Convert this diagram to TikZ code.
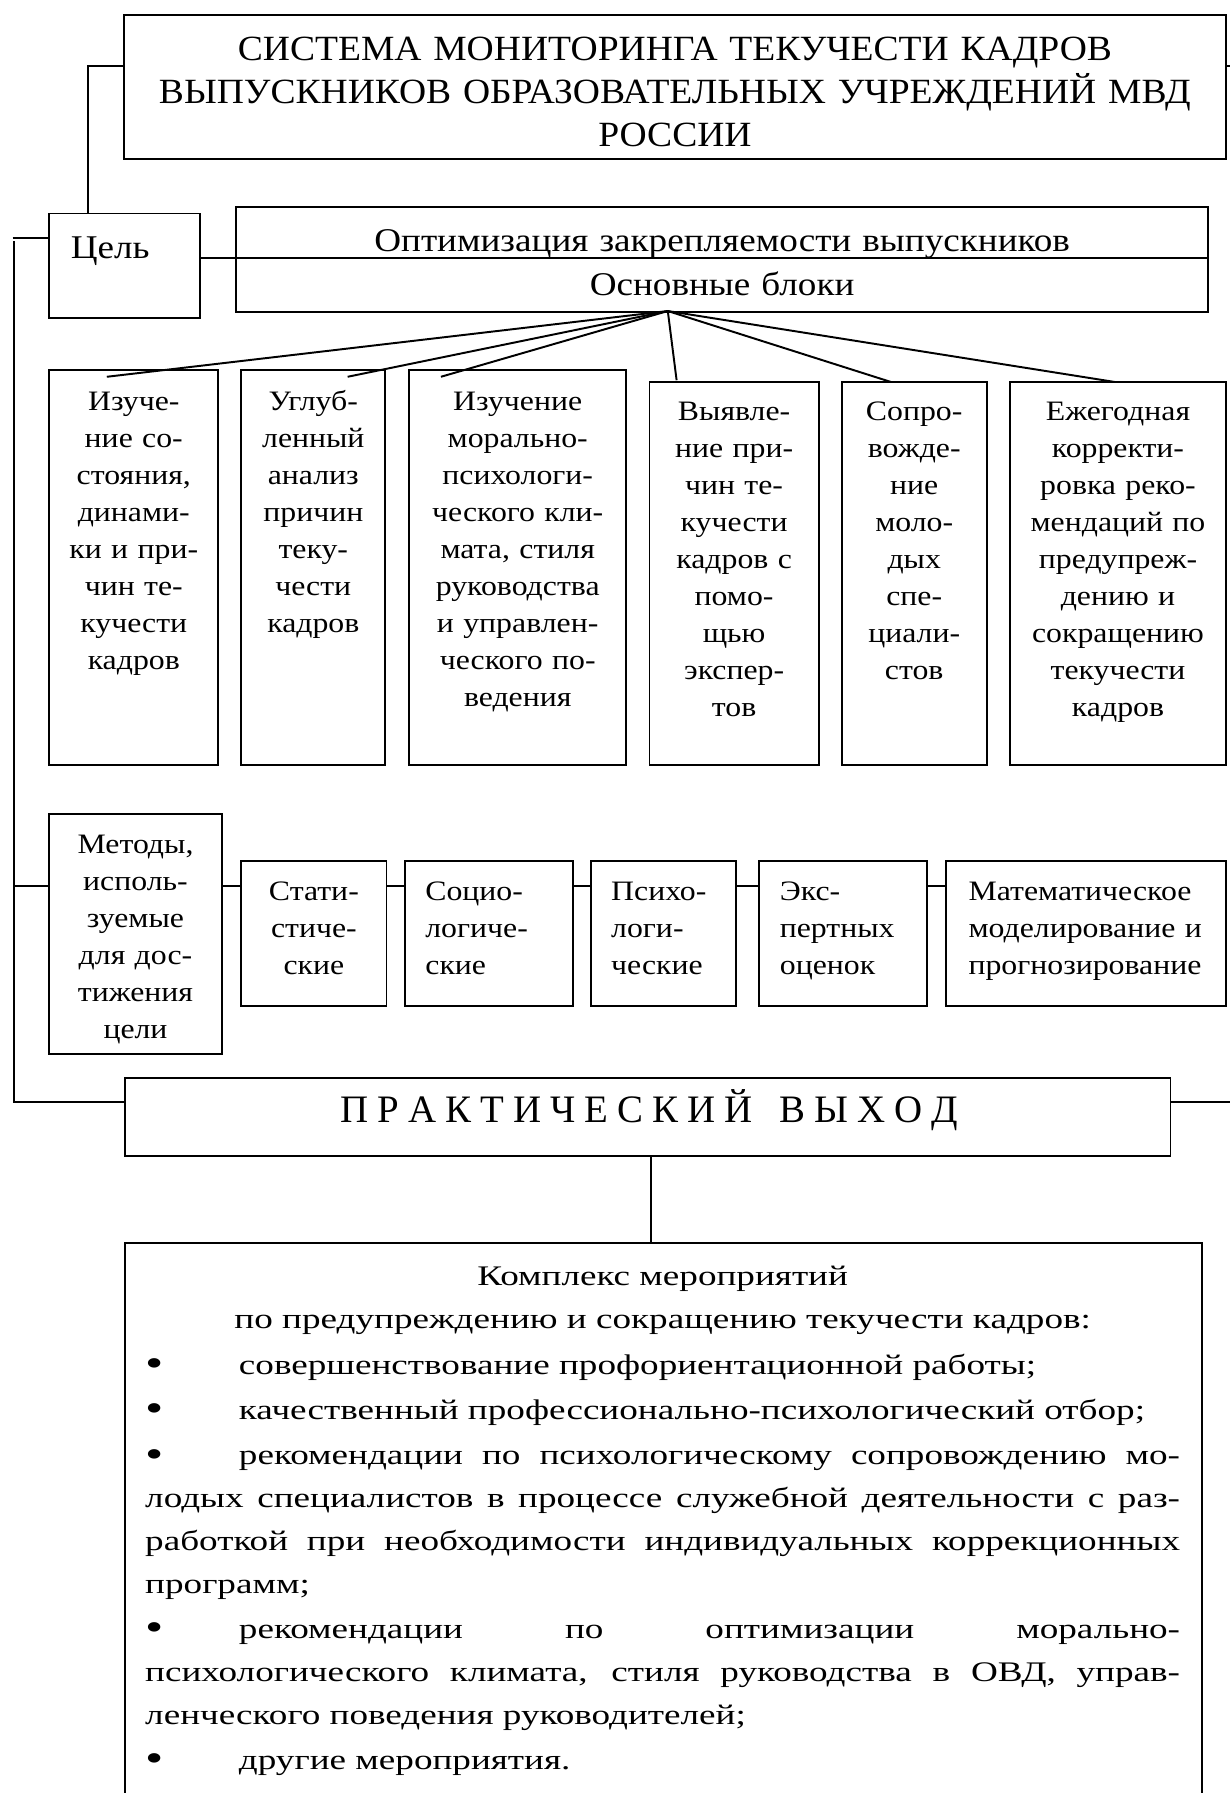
\documentclass[tikz,border=0pt]{standalone}
\usepackage{fontspec}
\usepackage{graphicx}
\setmainfont{Liberation Serif}
\newfontfamily\titlef[FakeStretch=1.06]{Liberation Serif}
\newfontfamily\optf[FakeStretch=1.12]{Liberation Serif}
\newfontfamily\blockf[FakeStretch=1.13]{Liberation Serif}
\newfontfamily\complf[FakeStretch=1.31]{Liberation Serif}
\usetikzlibrary{fit}
\newcommand{\bul}{\makebox[41pt][l]{\raisebox{-0.08em}{\scalebox{1.4}{•}}}}
\newcommand{\jline}[1]{\makebox[452.5pt][s]{#1}}
\begin{document}
\begin{tikzpicture}[x=0.5pt,y=-0.5pt,
  box/.style={draw, line width=0.85pt, inner sep=0pt, outer sep=0pt, rectangle},
  conn/.style={line width=0.85pt},
  ctxt/.style={inner sep=0pt, outer sep=0pt, anchor=base, align=center, text width=#1},
  ltxt/.style={inner sep=0pt, outer sep=0pt, anchor=base west, align=left, text width=#1},
  blk/.style={font={\blockf\fontsize{12.3pt}{16.2pt}\selectfont}},
  optfont/.style={font={\optf\fontsize{14.5pt}{18pt}\selectfont}}
]
\useasboundingbox (0,0) rectangle (1076,1568);

% ---------- boxes ----------
\node[box, fit={(108.5,13.1) (1072,139.1)}] (title) {};
\node[box, fit={(43,186.7) (174.6,278.5)}] (goal) {};
\node[box, fit={(206.7,181.4) (1056,272.7)}] (opt) {};
\node[box, fit={(43,323.7) (191,669)}] (b1) {};
\node[box, fit={(211,323.7) (337,669)}] (b2) {};
\node[box, fit={(358,323.7) (547.5,669)}] (b3) {};
\node[box, fit={(568,334) (716,669)}] (b4) {};
\node[box, fit={(736,334) (863,669)}] (b5) {};
\node[box, fit={(883,334) (1072.4,669)}] (b6) {};
\node[box, fit={(43,711.5) (194,921.6)}] (meth) {};
\node[box, fit={(211,753) (338,880)}] (m1) {};
\node[box, fit={(354,753) (501,880)}] (m2) {};
\node[box, fit={(517,753) (643.6,880)}] (m3) {};
\node[box, fit={(664,753) (811,880)}] (m4) {};
\node[box, fit={(827,753) (1072.5,880)}] (m5) {};
\node[box, fit={(109,943) (1023.6,1011)}] (pract) {};
\node[inner sep=0pt, outer sep=0pt, fit={(109,1087) (1051,1568)}] (kompl) {};
\draw[conn] (kompl.south west) -- (kompl.north west) -- (kompl.north east) -- (kompl.south east);

% ---------- texts ----------
\node[ctxt=500pt, font={\titlef\fontsize{15.5pt}{18.95pt}\selectfont}] (titletxt) at (590.25,52.5)
  {СИСТЕМА МОНИТОРИНГА ТЕКУЧЕСТИ КАДРОВ\\ВЫПУСКНИКОВ ОБРАЗОВАТЕЛЬНЫХ УЧРЕЖДЕНИЙ МВД\\РОССИИ};
\node[ltxt=60pt, optfont] (goaltxt) at (62,226) {Цель};
\node[ctxt=400pt, optfont] (opttxt1) at (631.5,220) {Оптимизация закрепляемости выпускников};
\node[ctxt=400pt, optfont] (opttxt2) at (631.5,258) {Основные блоки};

\node[ctxt=100pt, blk] (b1t) at (117,358.7) {Изуче-\\ние со-\\стояния,\\динами-\\ки и при-\\чин те-\\кучести\\кадров};
\node[ctxt=100pt, blk] (b2t) at (274,358.7) {Углуб-\\ленный\\анализ\\причин\\теку-\\чести\\кадров};
\node[ctxt=100pt, blk] (b3t) at (452.75,358.7) {Изучение\\морально-\\психологи-\\ческого кли-\\мата, стиля\\руководства\\и управлен-\\ческого по-\\ведения};
\node[ctxt=100pt, blk] (b4t) at (642,367.5) {Выявле-\\ние при-\\чин те-\\кучести\\кадров с\\помо-\\щью\\экспер-\\тов};
\node[ctxt=100pt, blk] (b5t) at (799.5,367.5) {Сопро-\\вожде-\\ние\\моло-\\дых\\спе-\\циали-\\стов};
\node[ctxt=100pt, blk] (b6t) at (977.7,367.5) {Ежегодная\\корректи-\\ровка реко-\\мендаций по\\предупреж-\\дению и\\сокращению\\текучести\\кадров};

\node[ctxt=100pt, blk] (metht) at (118.5,746.5) {Методы,\\исполь-\\зуемые\\для дос-\\тижения\\цели};
\node[ctxt=100pt, blk] (m1t) at (274.5,787.5) {Стати-\\стиче-\\ские};
\node[ltxt=100pt, blk] (m2t) at (372,787.5) {Социо-\\логиче-\\ские};
\node[ltxt=100pt, blk] (m3t) at (534.5,787.5) {Психо-\\логи-\\ческие};
\node[ltxt=100pt, blk] (m4t) at (682,787.5) {Экс-\\пертных\\оценок};
\node[ltxt=150pt, blk] (m5t) at (847,787.5) {Математическое\\моделирование и\\прогнозирование};

\node[ctxt=300pt, font={\fontsize{17pt}{20pt}\selectfont}] (practtxt) at (568,982)
  {\spaceskip=0pt\xspaceskip=0pt\makebox[270pt][s]{П Р А К Т И Ч Е С К И Й\hspace{8pt} В Ы Х О Д}};

\node[ltxt=452.5pt, font={\complf\fontsize{12.4pt}{18.75pt}\selectfont}] (komtxt) at (127,1124) {%
\spaceskip=0pt\xspaceskip=0pt
\makebox[452.5pt][c]{Комплекс мероприятий}\\
\makebox[452.5pt][c]{по предупреждению и сокращению текучести кадров:}\\[1.5pt]
\bul совершенствование профориентационной работы;\\[1pt]
\bul качественный профессионально-психологический отбор;\\[1pt]
\jline{\bul рекомендации по психологическому сопровождению мо-}\\
\jline{лодых специалистов в процессе служебной деятельности с раз-}\\
\jline{работкой при необходимости индивидуальных коррекционных}\\
программ;\\[1pt]
\jline{\bul рекомендации по оптимизации морально-}\\
\jline{психологического климата, стиля руководства в ОВД, управ-}\\
ленческого поведения руководителей;\\[1pt]
\bul другие мероприятия.};

% ---------- connectors ----------
\coordinate (tg) at (76.8,58);
\coordinate (redge) at (1076,58);
\draw[conn] (title.west |- tg) -- (tg) -- (tg |- goal.north);
\draw[conn] (title.east |- tg) -- (redge);

\coordinate (dv) at (0,225.4);
\draw[conn] (goal.east |- dv) -- (opt.east |- dv);

\coordinate (lg) at (11,208);
\draw[conn] (lg) -- (lg -| goal.west);
\coordinate (ltop) at (12,211);
\coordinate (lbot) at (12,963.3);
\draw[conn] (ltop) -- (lbot) -- (lbot -| pract.west);
\coordinate (lm) at (12,775);
\draw[conn] (lm) -- (lm -| meth.west);
\coordinate (redge2) at (1076,963.3);
\draw[conn] (pract.east |- redge2) -- (redge2);

\draw[conn] (meth.east |- lm) -- (m1.west |- lm);
\draw[conn] (m1.east |- lm) -- (m2.west |- lm);
\draw[conn] (m2.east |- lm) -- (m3.west |- lm);
\draw[conn] (m3.east |- lm) -- (m4.west |- lm);
\draw[conn] (m4.east |- lm) -- (m5.west |- lm);

\coordinate (pv) at (569,0);
\draw[conn] (pract.south -| pv) -- (kompl.north -| pv);

\coordinate (fan) at (584,272);
\coordinate (f1) at (93.4,329.5);
\coordinate (f2) at (304,329.5);
\coordinate (f3) at (385.6,329.5);
\coordinate (f4) at (591.7,332.5);
\coordinate (f5) at (779,334);
\coordinate (f6) at (974.6,334);
\foreach \e in {f1,f2,f3,f4,f5,f6} \draw[conn] (fan) -- (\e);
\end{tikzpicture}
\end{document}
